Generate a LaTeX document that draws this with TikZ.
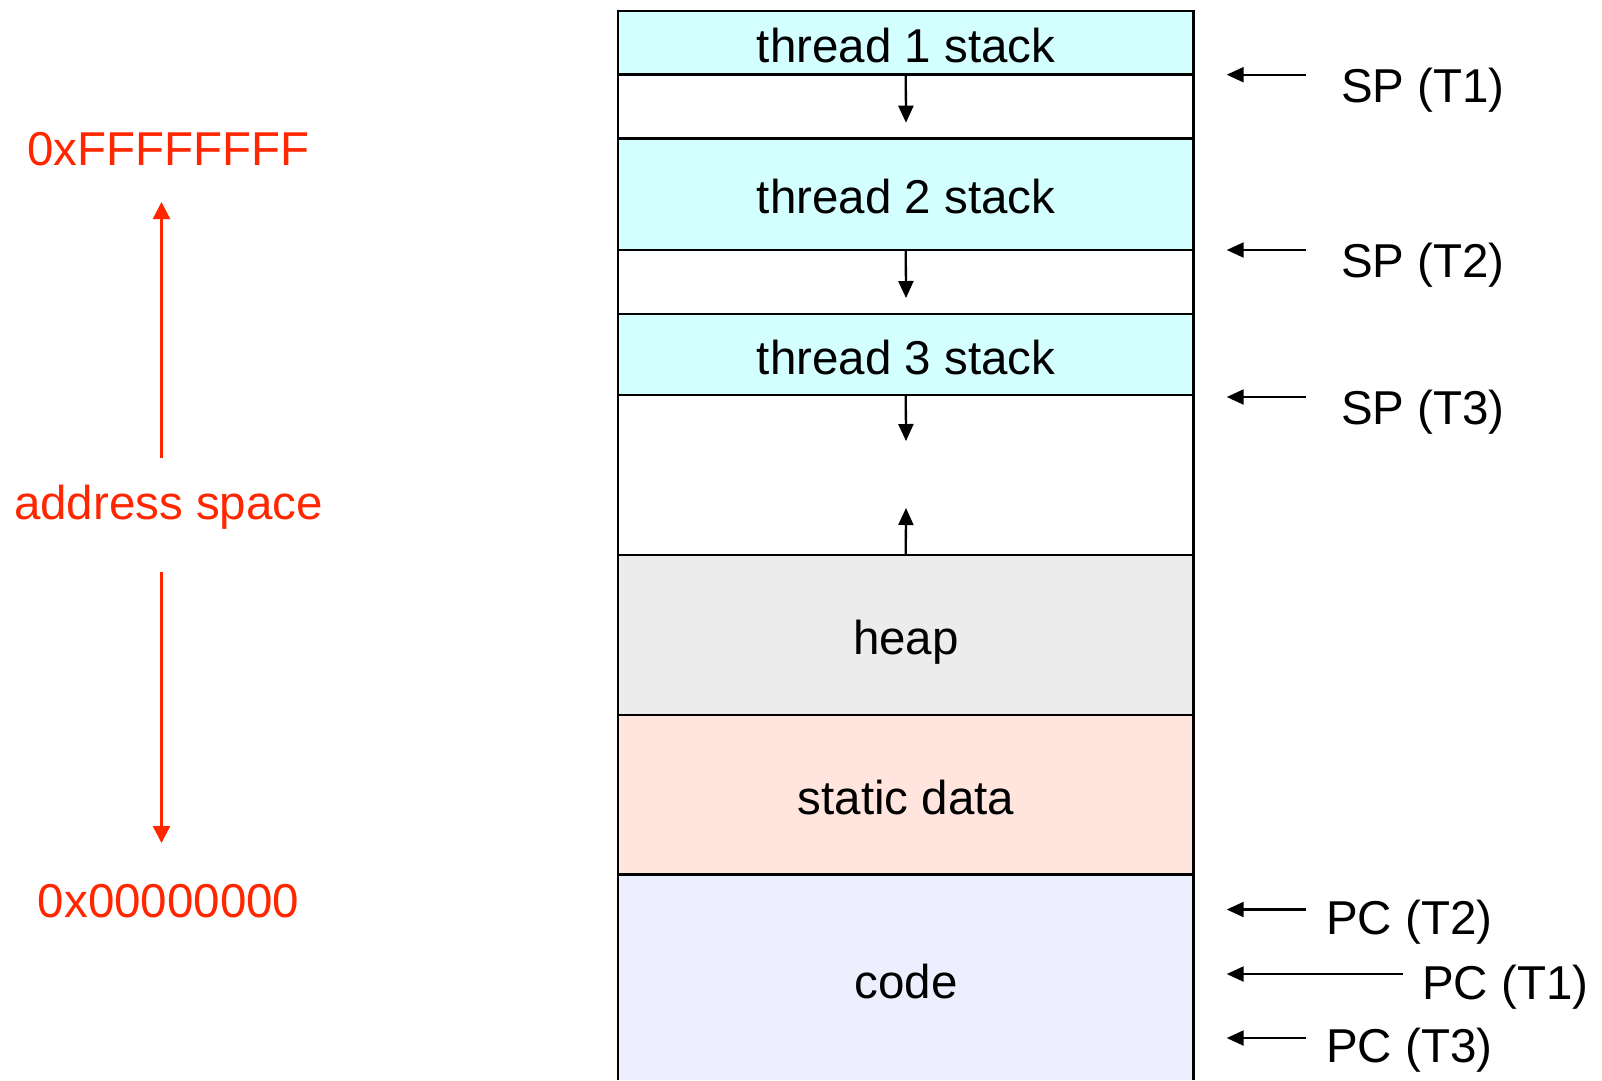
\documentclass[tikz,border=0pt]{standalone}
\usepackage{fontspec}
\setmainfont{Liberation Sans}
\usetikzlibrary{arrows.meta}
\definecolor{stackc}{RGB}{212,255,255}
\definecolor{heapc}{RGB}{236,236,236}
\definecolor{datac}{RGB}{255,229,222}
\definecolor{codec}{RGB}{237,239,255}
\definecolor{addrred}{RGB}{255,38,0}
\begin{document}
\begin{tikzpicture}[x=1pt,y=-1pt,
  block/.style={draw=black, line width=2.5pt, minimum width=575.5pt, inner sep=0pt, outer sep=0pt, anchor=north west},
  lbl/.style={font=\fontsize{47.5}{57}\selectfont, inner sep=0pt, anchor=base},
  lblw/.style={lbl, anchor=base west},
  ptrarr/.style={-{Triangle[length=17pt,width=15pt]}, line width=2.3pt},
  growarr/.style={-{Triangle[length=17pt,width=15pt]}, line width=2.3pt},
  redarr/.style={draw=addrred, fill=addrred, -{Triangle[length=17pt,width=17pt]}, line width=2.3pt},
  redlbl/.style={lbl, text=addrred}]
\useasboundingbox (0,0) rectangle (1602,1080);

% memory blocks
\node[block, fill=stackc, minimum height=63.7pt] (t1) at (618,11) {};
\node[block, fill=white,  minimum height=63.8pt] (g1) at (618,74.7) {};
\node[block, fill=stackc, minimum height=111.5pt] (t2) at (618,138.5) {};
\node[block, fill=white,  minimum height=64pt] (g2) at (618,250) {};
\node[block, fill=stackc, minimum height=81pt] (t3) at (618,314) {};
\node[block, fill=white,  minimum height=160pt] (g3) at (618,395) {};
\node[block, fill=heapc,  minimum height=160pt] (heap) at (618,555) {};
\node[block, fill=datac,  minimum height=159.5pt] (data) at (618,715) {};
\node[block, draw=none, fill=codec, minimum height=205.5pt] (code) at (618,874.5) {};
\draw[line width=2.5pt] (code.south west) -- (code.north west) -- (code.north east) -- (code.south east);

% block labels
\node[lbl] (lt1) at (906,62) {thread 1 stack};
\node[lbl] (lt2) at (906,213.5) {thread 2 stack};
\node[lbl] (lt3) at (906,374) {thread 3 stack};
\node[lbl] (lheap) at (906,654) {heap};
\node[lbl] (ldata) at (906,814) {static data};
\node[lbl] (lcode) at (906,998) {code};

% growth arrows
\coordinate (a1) at (906,122.7);
\coordinate (a2) at (906,298);
\coordinate (a3) at (906,441);
\coordinate (a4) at (906,508);
\draw[growarr] (g1.north) -- (a1);
\draw[growarr] (g2.north) -- (a2);
\draw[growarr] (g3.north) -- (a3);
\draw[growarr] (heap.north) -- (a4);

% stack pointers
\coordinate (sp1s) at (1306,74.7);  \coordinate (sp1e) at (1226.7,74.7);
\coordinate (sp2s) at (1306,250);   \coordinate (sp2e) at (1226.7,250);
\coordinate (sp3s) at (1306,397);   \coordinate (sp3e) at (1226.7,397);
\draw[ptrarr] (sp1s) -- (sp1e);
\draw[ptrarr] (sp2s) -- (sp2e);
\draw[ptrarr] (sp3s) -- (sp3e);
\node[lblw] (sp1) at (1341,102) {SP (T1)};
\node[lblw] (sp2) at (1341,277) {SP (T2)};
\node[lblw] (sp3) at (1341,424) {SP (T3)};

% program counters
\coordinate (pc2s) at (1306,909.5); \coordinate (pc2e) at (1226.7,909.5);
\coordinate (pc1s) at (1403,974);   \coordinate (pc1e) at (1226.7,974);
\coordinate (pc3s) at (1306,1038);  \coordinate (pc3e) at (1226.7,1038);
\draw[ptrarr] (pc2s) -- (pc2e);
\draw[ptrarr] (pc1s) -- (pc1e);
\draw[ptrarr] (pc3s) -- (pc3e);
\node[lblw] (pc2) at (1326,934.5) {PC (T2)};
\node[lblw] (pc1) at (1422,999.5) {PC (T1)};
\node[lblw] (pc3) at (1326,1062) {PC (T3)};

% address space
\node[redlbl] (hi) at (168.6,165.5) {0xFFFFFFFF};
\node[redlbl] (as) at (168.6,519) {address space};
\node[redlbl] (lo) at (168.6,917.5) {0x00000000};
\coordinate (r1s) at (161.5,458); \coordinate (r1e) at (161.5,202);
\coordinate (r2s) at (161.5,571.5); \coordinate (r2e) at (161.5,843);
\draw[redarr] (r1s) -- (r1e);
\draw[redarr] (r2s) -- (r2e);
\end{tikzpicture}
\end{document}
